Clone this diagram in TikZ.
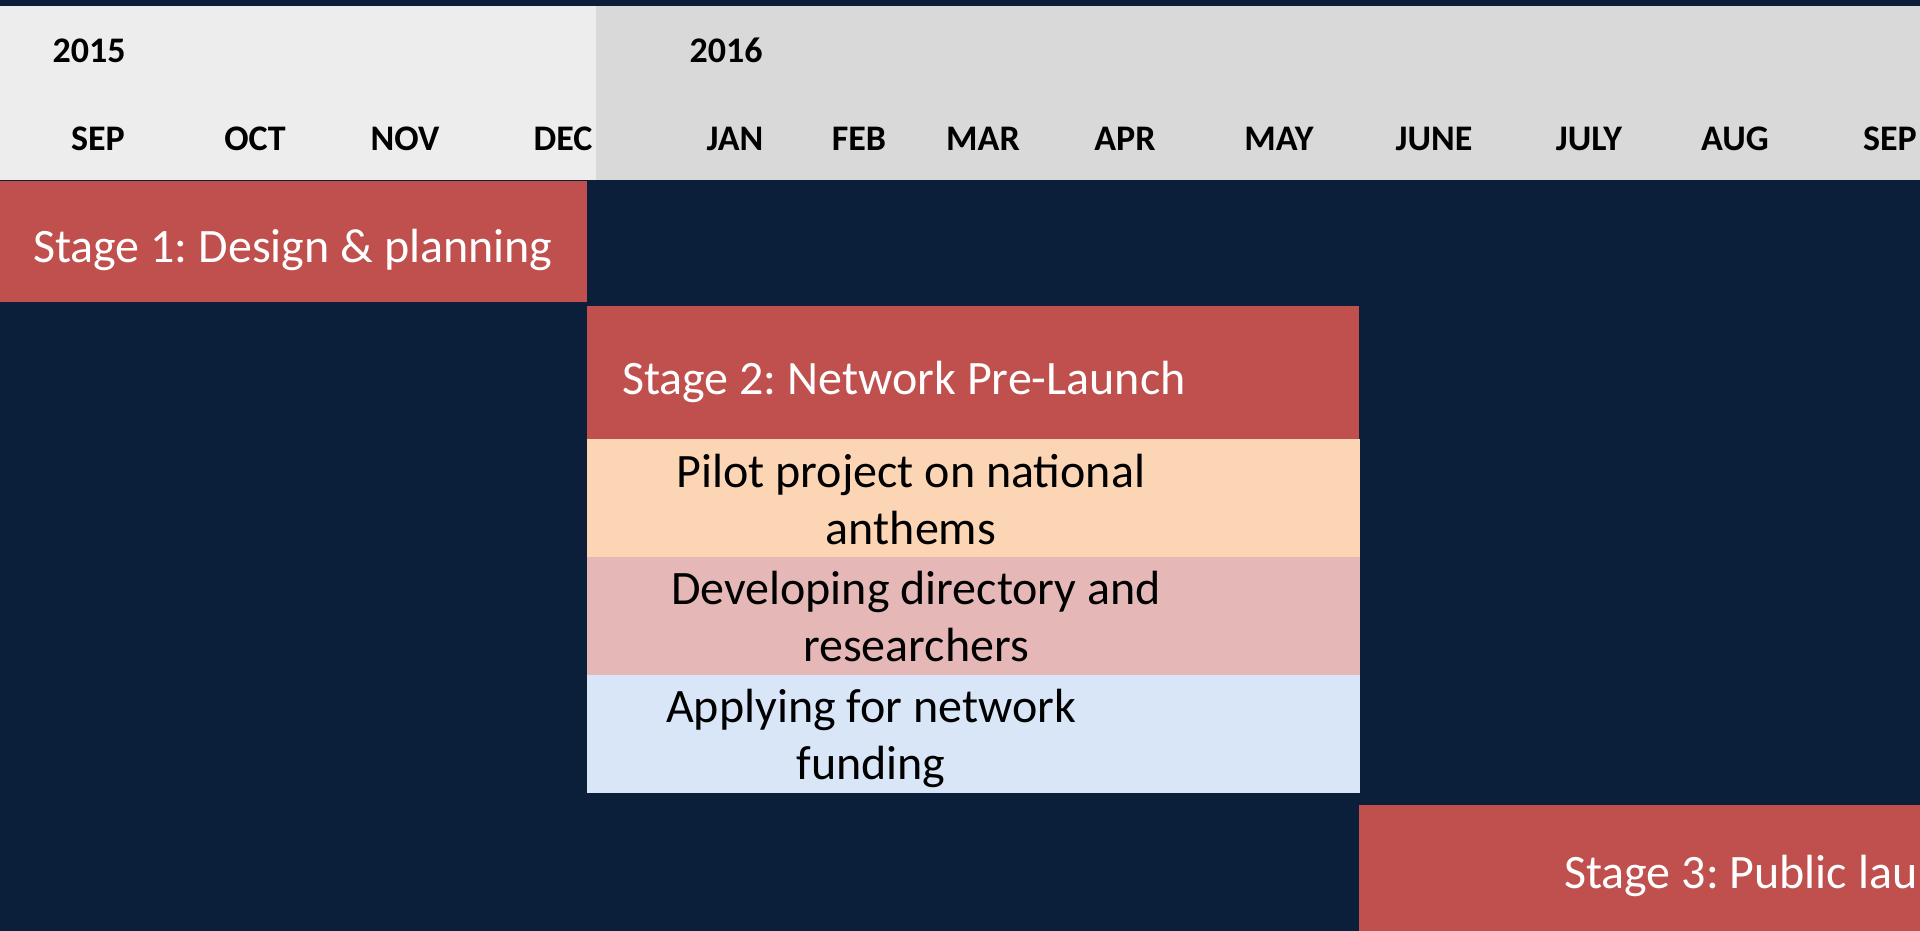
\documentclass[tikz,border=0pt]{standalone}
\usepackage{fontspec}
\setmainfont{Carlito}
\frenchspacing
\definecolor{navyback}{HTML}{0C1F3A}
\definecolor{headerlight}{HTML}{EDEDED}
\definecolor{headerdark}{HTML}{D9D9D9}
\definecolor{stagered}{HTML}{C0504D}
\definecolor{pilotpeach}{HTML}{FCD5B5}
\definecolor{directorypink}{HTML}{E5B8B7}
\definecolor{fundingblue}{HTML}{D8E6F7}
\begin{document}
\begin{tikzpicture}
[x=1pt,y=-1pt,
  monthlabel/.style={font=\fontsize{36}{43}\selectfont\bfseries,anchor=base,inner sep=0pt},
  barbox/.style={draw=none,inner sep=0pt,anchor=north west},
  stagetext/.style={text=white,font=\fontsize{48}{57}\selectfont,anchor=base west,inner sep=0pt},
  tasktext/.style={font=\fontsize{48}{57}\selectfont,align=center,anchor=base,inner sep=0pt}]
\useasboundingbox (0,0) rectangle (1920,931);
\clip (0,0) rectangle (1920,931);
%% background and header
\fill[navyback] (0,0) rectangle (1920,931);
\fill[headerlight] (0,6) rectangle (596,180);
\fill[headerdark] (596,6) rectangle (1920,180);
%% years and months
\foreach \nodename/\x in {2015/89, 2016/726} {
  \node (y\nodename) [monthlabel] at (\x,63) {\nodename};
}
\foreach \nodename/\x/\monthtext in {
  m1/98/SEP, m2/255/OCT, m3/405/NOV, m4/563/DEC, m5/735/JAN,
  m6/859/FEB, m7/983/MAR, m8/1125/APR, m9/1279/MAY, m10/1434/JUNE,
  m11/1589/JULY, m12/1735/AUG, m13/1890/SEP} {
  \node (\nodename) [monthlabel] at (\x,150) {\monthtext};
}
%% stage bars
\foreach \nodename/\x/\y/\w/\h/\fillcolor in {
  stage1/0/181/587/121/stagered, stage2/587/306/772/133/stagered,
  pilot/587/439/773/118/pilotpeach, directory/587/557/773/118/directorypink,
  funding/587/675/773/118/fundingblue, stage3/1359/805/561/126/stagered} {
  \node (\nodename) [barbox,fill=\fillcolor,minimum width=\w pt,minimum height=\h pt] at (\x,\y) {};
}
%% labels (base = last line)
\node (stage1text) [stagetext] at (33,262) {Stage 1: Design \& planning};
\node (stage2text) [stagetext] at (622,394) {Stage 2: Network Pre-Launch};
\node (stage3text) [stagetext] at (1564,888) {Stage 3: Public lau};
\node (pilottext) [tasktext] at (911,544) {Pilot project on national\\anthems};
\node (directorytext) [tasktext] at (916,661) {Developing directory and\\researchers};
\node (fundingtext) [tasktext] at (871,779) {Applying for network\\funding};
\end{tikzpicture}
\end{document}
